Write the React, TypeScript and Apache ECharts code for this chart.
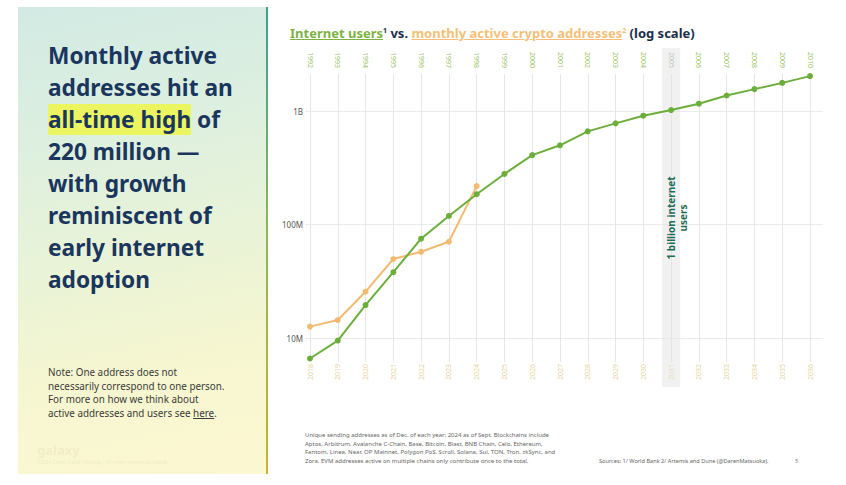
import React, { useEffect, useRef } from "react";
import * as echarts from "echarts";

const internetYears = ["1992","1993","1994","1995","1996","1997","1998","1999","2000","2001","2002","2003","2004","2005","2006","2007","2008","2009","2010"];
const cryptoYears = ["2018","2019","2020","2021","2022","2023","2024","2025","2026","2027","2028","2029","2030","2031","2032","2033","2034","2035","2036"];
const internetUsers = [6.6e6, 9.5e6, 19.5e6, 38e6, 75e6, 119e6, 185e6, 279e6, 409e6, 499e6, 662e6, 779e6, 910e6, 1.02e9, 1.16e9, 1.37e9, 1.56e9, 1.77e9, 2.03e9];
const cryptoAddresses = [12.6e6, 14.4e6, 25.6e6, 49.7e6, 57.5e6, 70.5e6, 218e6];
const yTickValues = [1e7, 1e8, 1e9];
const yTickLabels = ["10M", "100M", "1B"];
const yMin = 6.146e6;
const yMax = 2.12e9;
const highlightYear = "2005";
const highlightLabel = "1 billion internet\nusers";

const FONT = "'Noto Sans', 'Open Sans', sans-serif";
const GREEN = "#6cae3c";
const ORANGE = "#f3bb72";

function yLabel(v: number): string {
  for (let i = 0; i < yTickValues.length; i++) {
    if (Math.abs(Math.log10(v) - Math.log10(yTickValues[i])) < 1e-6) return yTickLabels[i];
  }
  return "";
}

function Chart() {
  const ref = useRef<HTMLDivElement>(null);
  useEffect(() => {
    if (!ref.current) return;
    const chart = echarts.init(ref.current, undefined, { renderer: "svg" });
    chart.setOption({
      animation: false,
      textStyle: { fontFamily: FONT },
      grid: [
        { left: 310, right: 36, top: 74, bottom: 123 },
        { left: 305, right: 23, top: 74, bottom: 123 },
      ],
      xAxis: [
        {
          type: "category", gridIndex: 0, data: cryptoYears, position: "bottom", boundaryGap: false,
          axisLine: { show: false }, axisTick: { show: false },
          axisLabel: { rotate: 90, fontSize: 7, color: "#e6d59b", margin: 2, interval: 0, fontFamily: FONT },
          splitLine: { show: true, interval: 0, lineStyle: { color: "#e6e6e6", width: 1 } },
        },
        {
          type: "category", gridIndex: 0, data: internetYears, position: "top", boundaryGap: false,
          axisLine: { show: false }, axisTick: { show: false },
          axisLabel: {
            rotate: 90, fontSize: 7, margin: 6, interval: 0, fontFamily: FONT,
            color: (v: string) => (v === highlightYear ? "#9aa98a" : "#9cc466"),
          },
          splitLine: { show: false },
        },
        { type: "value", gridIndex: 1, show: false },
      ],
      yAxis: [
        { type: "log", gridIndex: 0, min: yMin, max: yMax, show: false },
        {
          type: "log", gridIndex: 1, min: yMin, max: yMax,
          axisLine: { show: false }, axisTick: { show: false },
          axisLabel: { formatter: (v: number) => yLabel(v), fontSize: 8, color: "#555", margin: 2, fontFamily: FONT, showMinLabel: false, showMaxLabel: false },
          splitLine: { show: true, showMinLine: false, showMaxLine: false, lineStyle: { color: "#ebebeb", width: 1 } },
        },
      ],
      series: [
        {
          name: "Internet users", type: "line", xAxisIndex: 1, yAxisIndex: 0, data: internetUsers,
          lineStyle: { color: GREEN, width: 2 }, itemStyle: { color: GREEN },
          symbol: "circle", symbolSize: 6, z: 4,
        },
        {
          name: "Monthly active crypto addresses", type: "line", xAxisIndex: 0, yAxisIndex: 0, data: cryptoAddresses,
          lineStyle: { color: ORANGE, width: 2 }, itemStyle: { color: ORANGE },
          symbol: "circle", symbolSize: 6, z: 3,
        },
      ],
    });
    const px = chart.convertToPixel({ xAxisIndex: 1 }, highlightYear) as number;
    const pyTop = chart.convertToPixel({ yAxisIndex: 0 }, yMax) as number;
    const pyBottom = chart.convertToPixel({ yAxisIndex: 0 }, yMin) as number;
    chart.setOption({
      graphic: [
        {
          type: "rect", z: 1, silent: true,
          shape: { x: px - 9, y: pyTop - 26, width: 18, height: pyBottom - pyTop + 51 },
          style: { fill: "rgba(228,228,228,0.5)" },
        },
        {
          type: "text", z: 5, silent: true, x: px + 6, y: (pyTop + pyBottom) / 2,
          rotation: Math.PI / 2,
          style: {
            text: highlightLabel, fill: "#1f6c55", fontSize: 10, fontWeight: "bold", fontFamily: FONT,
            align: "center", verticalAlign: "middle", lineHeight: 12,
          },
        },
      ],
    });
    return () => chart.dispose();
  }, []);
  return <div ref={ref} style={{ position: "absolute", left: 0, top: 0, width: 846, height: 485 }} />;
}

export default function App() {
  return (
    <div style={{ position: "fixed", left: 0, top: 0, width: 846, height: 485, background: "#fff", overflow: "hidden", fontFamily: FONT }}>
      <div
        style={{
          position: "absolute", left: 18, top: 7, width: 249, height: 467,
          background: "linear-gradient(168deg, #d2eae4 0%, #dcefe0 25%, #e8f3d8 50%, #f6f6d0 75%, #fcf8d1 100%)",
        }}
      />
      <div
        style={{
          position: "absolute", left: 266, top: 7, width: 2, height: 467,
          background: "linear-gradient(180deg, #3f9f8c 0%, #8cb85a 50%, #c7b52c 100%)",
        }}
      />
      <div
        style={{
          position: "absolute", left: 48, top: 40, fontSize: 22.7, lineHeight: "32px", fontWeight: 700,
          color: "#1a365d", whiteSpace: "nowrap",
        }}
      >
        Monthly active<br />
        addresses hit an<br />
        <span style={{ background: "#ebf55f" }}>all-time high</span> of<br />
        220 million —<br />
        with growth<br />
        reminiscent of<br />
        early internet<br />
        adoption
      </div>
      <div
        style={{
          position: "absolute", left: 48, top: 366, fontSize: 9.85, lineHeight: "13.6px", color: "#3a3a3a", whiteSpace: "nowrap",
        }}
      >
        Note: One address does not<br />
        necessarily correspond to one person.<br />
        For more on how we think about<br />
        active addresses and users see <span style={{ textDecoration: "underline" }}>here</span>.
      </div>
      <div style={{ position: "absolute", left: 37, top: 441, fontSize: 13, fontWeight: 700, color: "rgba(190,180,120,0.15)" }}>galaxy</div>
      <div style={{ position: "absolute", left: 37, top: 459, fontSize: 4.5, color: "rgba(190,180,120,0.22)", whiteSpace: "nowrap" }}>
        ©2024 Galaxy Digital Holdings | All rights reserved worldwide
      </div>
      <Chart />
      <div
        style={{
          position: "absolute", left: 290, top: 22, fontSize: 13, lineHeight: "18px", fontWeight: 700, color: "#1a2e4a", whiteSpace: "nowrap",
        }}
      >
        <span style={{ color: "#7cb342", textDecoration: "underline" }}>Internet users</span>
        <sup style={{ fontSize: 7, color: "#1a2e4a" }}>1</sup> vs.{" "}
        <span style={{ color: "#f5bf78", textDecoration: "underline" }}>monthly active crypto addresses</span>
        <sup style={{ fontSize: 7, color: "#f5bf78" }}>2</sup> (log scale)
      </div>
      <div
        style={{
          position: "absolute", left: 305, top: 431, fontSize: 6, lineHeight: "8.7px", color: "#666", whiteSpace: "nowrap",
        }}
      >
        Unique sending addresses as of Dec. of each year; 2024 as of Sept. Blockchains include<br />
        Aptos, Arbitrum, Avalanche C-Chain, Base, Bitcoin, Blast, BNB Chain, Celo, Ethereum,<br />
        Fantom, Linea, Near, OP Mainnet, Polygon PoS, Scroll, Solana, Sui, TON, Tron, zkSync, and<br />
        Zora. EVM addresses active on multiple chains only contribute once to the total.
      </div>
      <div style={{ position: "absolute", left: 599, top: 457, fontSize: 5.6, lineHeight: "8px", color: "#666", whiteSpace: "nowrap" }}>
        Sources: 1/ World Bank 2/ Artemis and Dune (@DarenMatsuoka).
      </div>
      <div style={{ position: "absolute", left: 795, top: 457, fontSize: 6, lineHeight: "8px", color: "#888" }}>5</div>
    </div>
  );
}
